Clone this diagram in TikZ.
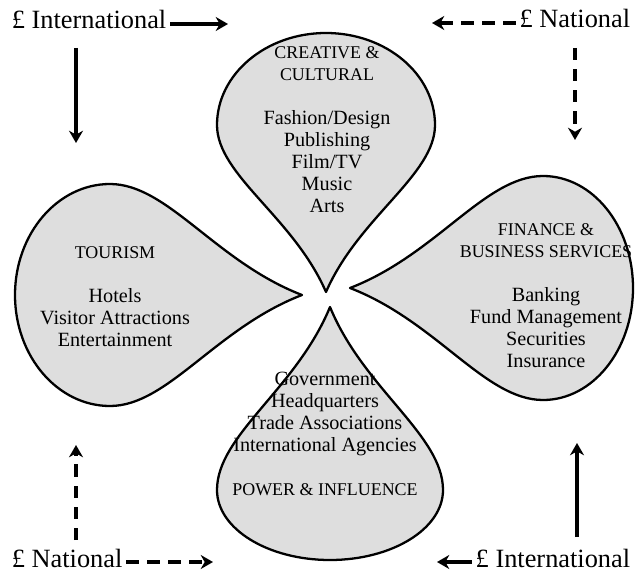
\documentclass[tikz,border=0pt]{standalone}
\usepackage{fontspec}
\setmainfont{Liberation Serif}
\usepackage{tikz}
\usetikzlibrary{arrows.meta,positioning}

% teardrop: tip position, direction, tip-to-bulb length, half width, bulb depth
\newcommand{\petal}[5]{%
  \begin{scope}[shift={(#1)}, rotate=#2]
    \draw[leaf] (0,0) .. controls (0.45*#3,0.3*#4) and (0.7*#3,#4) .. (#3,#4)
      .. controls (#3+0.552*#5,#4) and (#3+#5,0.552*#4) .. (#3+#5,0)
      .. controls (#3+#5,-0.552*#4) and (#3+0.552*#5,-#4) .. (#3,-#4)
      .. controls (0.7*#3,-#4) and (0.45*#3,-0.3*#4) .. cycle;
  \end{scope}}
% sector titles are set a little smaller
\newcommand{\sectorname}[1]{{\fontsize{10.2}{12.5}\selectfont #1}}

\begin{document}
\begin{tikzpicture}[
  x=0.02cm, y=-0.02cm,
  leaf/.style={draw=black, line width=1.3pt, fill=black!13, line join=round},
  sector/.style={font=\fontsize{11.5}{12.5}\selectfont, align=center, inner sep=0pt},
  flow/.style={font=\fontsize{15}{17}\selectfont, inner sep=2pt},
  money/.style={line width=2pt, -{Stealth[length=7pt,width=8pt]}},
  local/.style={money, dash pattern=on 7pt off 5pt}
]
\useasboundingbox (0,0) rectangle (635,574);

% the four petals
\petal{326,292}{90}{167}{109}{92}
\petal{302,295}{180}{192}{111}{95}
\petal{350,288}{0}{193}{112}{90}
\petal{330,307}{-90}{183}{113}{70}

% sector texts
\node[sector] (creative) at (327,130)
  {\sectorname{CREATIVE \&}\\\sectorname{CULTURAL}\\[12.5pt]Fashion/Design\\Publishing\\Film/TV\\Music\\Arts};
\node[sector] (tourism) at (115,297)
  {\sectorname{TOURISM}\\[12.5pt]Hotels\\Visitor Attractions\\Entertainment};
\node[sector] (finance) at (546,296)
  {\sectorname{FINANCE \&}\\\sectorname{BUSINESS SERVICES}\\[12.5pt]Banking\\Fund Management\\Securities\\Insurance};
\node[sector] (power) at (325,434)
  {Government\\Headquarters\\Trade Associations\\International Agencies\\[12.5pt]\sectorname{POWER \& INFLUENCE}};

% corner sources
\node[flow, anchor=base west] (intTL) at (8,29) {£ International};
\node[flow, anchor=base east] (natTR) at (634,28) {£ National};
\node[flow, anchor=base west] (natBL) at (8,567) {£ National};
\node[flow, anchor=base east] (intBR) at (634,567) {£ International};

\coordinate (tlEnd) at (228,24);
\coordinate (tlTop) at (76,48);
\coordinate (tlBot) at (76,143);
\coordinate (trEnd) at (432,23);
\coordinate (trTop) at (575,48);
\coordinate (trBot) at (575,140);
\coordinate (blEnd) at (213,562);
\coordinate (blBot) at (76,540);
\coordinate (blTop) at (76,445);
\coordinate (brEnd) at (437,562);
\coordinate (brBot) at (577,537);
\coordinate (brTop) at (577,443);

% international money: solid
\draw[money] (intTL.east |- tlEnd) -- (tlEnd);
\draw[money] (tlTop) -- (tlBot);
\draw[money] (intBR.west |- brEnd) -- (brEnd);
\draw[money] (brBot) -- (brTop);

% national money: dashed
\draw[local] (natTR.west |- trEnd) -- (trEnd);
\draw[local] (trTop) -- (trBot);
\draw[local] (natBL.east |- blEnd) -- (blEnd);
\draw[local] (blBot) -- (blTop);

\end{tikzpicture}
\end{document}
